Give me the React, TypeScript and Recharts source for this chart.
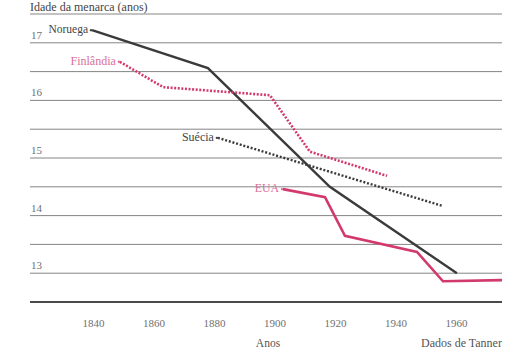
import React from "react";
import { LineChart, Line, XAxis, YAxis, ReferenceLine } from "recharts";

// Idade média da menarca por país (anos), por ano de observação
const noruegaAnos = [1839.5, 1877.8, 1918.1, 1960.1];
const noruegaIdade = [17.22, 16.56, 14.5, 13.0];

const finlandiaAnos = [1848.7, 1863.0, 1898.3, 1911.5, 1937.0];
const finlandiaIdade = [16.67, 16.23, 16.09, 15.11, 14.69];

const sueciaAnos = [1881.1, 1955.2];
const sueciaIdade = [15.35, 14.17];

const euaAnos = [1902.6, 1916.5, 1923.1, 1946.9, 1955.5, 1975.0];
const euaIdade = [14.46, 14.32, 13.65, 13.37, 12.86, 12.88];

const anosTicks = [1840, 1860, 1880, 1900, 1920, 1940, 1960];
const idadeTicks = [13, 14, 15, 16, 17];
const linhasGrade = [12.5, 13, 13.5, 14, 14.5, 15, 15.5, 16, 16.5, 17, 17.5];

const toPoints = (anos: number[], idades: number[]) =>
  anos.map((ano, i) => ({ ano, idade: idades[i] }));

const SERIF = "Times New Roman, Liberation Serif, serif";
const CINZA = "#3b3b3b";
const ROSA = "#d23a6b";

const SeriesLabel = (text: string, color: string, size: number) => (props: any) => {
  const { x, y, index } = props;
  if (index !== 0) return null;
  return (
    <g>
      <circle cx={x - 1} cy={y} r={1.2} fill={color} />
      <text
        x={x - 4}
        y={y + 3}
        textAnchor="end"
        fontFamily={SERIF}
        fontSize={size}
        fill={color}
      >
        {text}
      </text>
    </g>
  );
};

const YearTick = (props: any) => {
  const { x, payload } = props;
  return (
    <text x={x} y={327} textAnchor="middle" fontFamily={SERIF} fontSize={11} fill="#707070">
      {payload.value}
    </text>
  );
};

const AgeTick = (props: any) => {
  const { y, payload } = props;
  return (
    <text x={31} y={y - 4} textAnchor="start" fontFamily={SERIF} fontSize={11} fill="#707070">
      {payload.value}
    </text>
  );
};

export default function App() {
  return (
    <div style={{ position: "absolute", left: 0, top: 0, width: 505, height: 358, background: "#fff" }}>
      <div
        style={{
          position: "absolute",
          left: 30,
          top: 0,
          fontFamily: SERIF,
          fontSize: 12,
          color: "#444",
          lineHeight: "14px",
          whiteSpace: "nowrap",
        }}
      >
        Idade da menarca (anos)
      </div>
      <LineChart
        width={505}
        height={358}
        margin={{ top: 14, right: 3, bottom: 0, left: 0 }}
        style={{ position: "absolute", left: 0, top: 0 }}
      >
        <XAxis
          dataKey="ano"
          type="number"
          domain={[1819, 1975]}
          ticks={anosTicks}
          allowDataOverflow
          axisLine={false}
          tickLine={false}
          tick={<YearTick />}
          height={56}
        />
        <YAxis
          type="number"
          domain={[12.5, 17.5]}
          ticks={idadeTicks}
          width={30}
          axisLine={false}
          tickLine={false}
          tick={<AgeTick />}
        />
        {linhasGrade.map((v) => (
          <ReferenceLine
            key={v}
            y={v}
            stroke={v === 12.5 ? "#4a4a4a" : "#858585"}
            strokeWidth={v === 12.5 ? 2.2 : 1}
          />
        ))}
        <Line
          data={toPoints(noruegaAnos, noruegaIdade)}
          dataKey="idade"
          type="linear"
          stroke={CINZA}
          strokeWidth={2.4}
          dot={false}
          isAnimationActive={false}
          label={SeriesLabel("Noruega", "#444", 11.5)}
        />
        <Line
          data={toPoints(finlandiaAnos, finlandiaIdade)}
          dataKey="idade"
          type="linear"
          stroke={ROSA}
          strokeWidth={2.6}
          strokeDasharray="2 1.6"
          dot={false}
          isAnimationActive={false}
          label={SeriesLabel("Finlândia", "#d8709a", 12)}
        />
        <Line
          data={toPoints(sueciaAnos, sueciaIdade)}
          dataKey="idade"
          type="linear"
          stroke={CINZA}
          strokeWidth={2.4}
          strokeDasharray="2 1.8"
          dot={false}
          isAnimationActive={false}
          label={SeriesLabel("Suécia", "#444", 12)}
        />
        <Line
          data={toPoints(euaAnos, euaIdade)}
          dataKey="idade"
          type="linear"
          stroke={ROSA}
          strokeWidth={2.6}
          dot={false}
          isAnimationActive={false}
          label={SeriesLabel("EUA", "#d8709a", 11.8)}
        />
      </LineChart>
      <div
        style={{
          position: "absolute",
          left: 268,
          top: 336,
          transform: "translateX(-50%)",
          fontFamily: SERIF,
          fontSize: 11.5,
          color: "#555",
          whiteSpace: "nowrap",
          lineHeight: "14px",
        }}
      >
        Anos
      </div>
      <div
        style={{
          position: "absolute",
          left: 421,
          top: 336,
          fontFamily: SERIF,
          fontSize: 12,
          color: "#555",
          whiteSpace: "nowrap",
          lineHeight: "14px",
        }}
      >
        Dados de Tanner
      </div>
    </div>
  );
}
